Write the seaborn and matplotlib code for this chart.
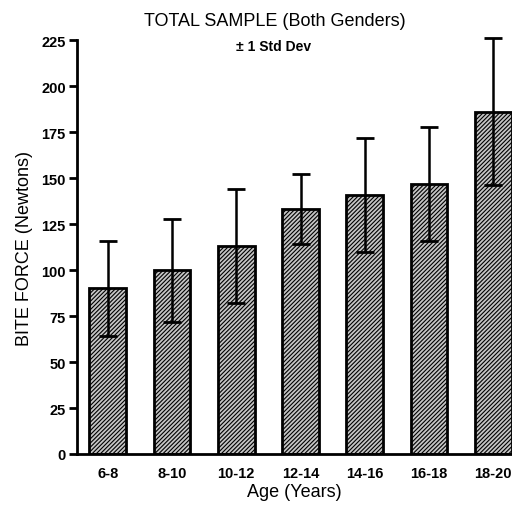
import matplotlib
matplotlib.use("Agg")
import matplotlib.pyplot as plt
import seaborn as sns
import pandas as pd

ages = ["6-8", "8-10", "10-12", "12-14", "14-16", "16-18", "18-20"]
mean_force = [90, 100, 113, 133, 141, 147, 186]
sd_force = [26, 28, 31, 19, 31, 31, 40]
y_ticks = [0, 25, 50, 75, 100, 125, 150, 175, 200, 225]

sns.set_theme(style="ticks")
plt.rcParams["font.family"] = ["Liberation Sans", "DejaVu Sans"]
plt.rcParams["hatch.linewidth"] = 0.8
plt.rcParams["text.color"] = "black"
plt.rcParams["axes.labelcolor"] = "black"

df = pd.DataFrame({"age": ages, "force": mean_force})

fig = plt.figure(figsize=(5.12, 5.06), dpi=100)
ax = fig.add_axes([0.150, 0.1008, 0.850, 0.818])

sns.barplot(data=df, x="age", y="force", order=ages, color="#c4c4c4",
            width=0.57, errorbar=None, ax=ax, saturation=1,
            edgecolor="black", linewidth=2)
for p in ax.patches:
    p.set_hatch("////////")
    p.set_facecolor("#c4c4c4")
    p.set_edgecolor("black")

ax.errorbar(range(len(ages)), mean_force, yerr=sd_force, fmt="none",
            ecolor="black", elinewidth=1.8, capsize=6.5, capthick=2,
            clip_on=False, zorder=5)

ax.set_xlim(-0.48, 6.29)
ax.set_ylim(0, 225)
ax.set_yticks(y_ticks)
ax.set_yticklabels([str(v) for v in y_ticks], fontsize=10.5)
ax.tick_params(axis="y", direction="out", length=6, width=2, pad=2, colors="black")
ax.tick_params(axis="x", length=0, pad=9, labelsize=10.5, colors="black")
for lbl in ax.get_xticklabels() + ax.get_yticklabels():
    lbl.set_fontweight("semibold")

sns.despine(ax=ax)
for s in ["left", "bottom"]:
    ax.spines[s].set_linewidth(2)
    ax.spines[s].set_color("black")

ax.set_xlabel("Age (Years)", fontsize=13, labelpad=2, color="black")
ax.set_ylabel("BITE FORCE (Newtons)", fontsize=13, labelpad=6, color="black")

fig.text(0.537, 0.957, "TOTAL SAMPLE (Both Genders)", ha="center", va="center",
         fontsize=13, color="black")
fig.text(0.535, 0.907, "± 1 Std Dev", ha="center", va="center", fontsize=10,
         color="black", fontweight="semibold")

fig.savefig("out.png", dpi=100)
